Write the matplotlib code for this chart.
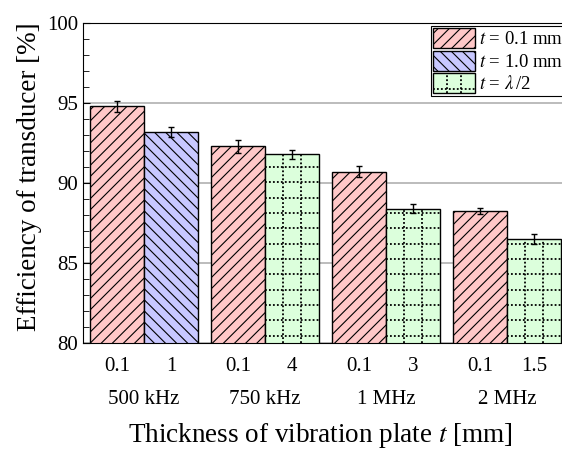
import numpy as np
import matplotlib
matplotlib.use("Agg")
import matplotlib.pyplot as plt
from matplotlib.patches import Rectangle
from matplotlib.lines import Line2D
from matplotlib.legend_handler import HandlerBase

# ── data ──
groups = ["500 kHz", "750 kHz", "1 MHz", "2 MHz"]
thin_labels = ["0.1", "0.1", "0.1", "0.1"]
thin_eff = [94.8, 92.3, 90.7, 88.25]
thin_err = [0.35, 0.4, 0.35, 0.17]
thick_labels = ["1", "4", "3", "1.5"]
thick_eff = [93.2, 91.8, 88.4, 86.5]
thick_err = [0.3, 0.27, 0.3, 0.3]
thick_kind = ["t1", "half", "half", "half"]

plt.rcParams["font.family"] = ["Liberation Serif", "DejaVu Serif"]
plt.rcParams["mathtext.fontset"] = "stix"
plt.rcParams["hatch.linewidth"] = 0.8

PINK = "#ffc8c8"
BLUE = "#c8c8ff"
GREEN = "#dcffdc"
W = 0.446
YMIN, YMAX = 80, 100
DOT = dict(color="black", lw=1.3, linestyle=(0, (1, 1.2)))


def dotted_grid(ax, bar, ystep=0.96):
    # dotted "hatch" for the lambda/2 bars, kept inside the visible part of the bar
    x0, w = bar.get_x(), bar.get_width()
    lo, hi = max(bar.get_y(), YMIN), bar.get_y() + bar.get_height()
    for k in (1, 2):
        ax.plot([x0 + w * k / 3] * 2, [lo, hi], zorder=2.5, **DOT)
    for y in np.arange(lo + 0.45, hi, ystep):
        ax.plot([x0, x0 + w], [y, y], zorder=2.5, **DOT)


class DotGridHandler(HandlerBase):
    def create_artists(self, legend, orig_handle, xdescent, ydescent,
                       width, height, fontsize, trans):
        x0, y0 = -xdescent, -ydescent
        rect = Rectangle((x0, y0), width, height, facecolor=GREEN,
                         edgecolor="black", lw=1.0, transform=trans)
        arts = [rect]
        for k in (1, 2):
            arts.append(Line2D([x0 + width * k / 3] * 2, [y0, y0 + height],
                               transform=trans, **DOT))
        arts.append(Line2D([x0, x0 + width], [y0 + height * 0.2] * 2,
                           transform=trans, **DOT))
        return arts


fig = plt.figure(figsize=(5.62, 4.5), dpi=100)
ax = fig.add_axes([0.1477, 0.2378, 1.0116 - 0.1477, 0.9489 - 0.2378])

x = np.arange(len(groups))
err_kw = dict(ecolor="black", elinewidth=1.0, capsize=2.5, capthick=1.0)

thin_bars = ax.bar(x - W / 2, thin_eff, W, yerr=thin_err,
                   facecolor=PINK, edgecolor="black", lw=1.0, hatch="///",
                   zorder=2, error_kw=err_kw)
thick_bars = ax.bar(x + W / 2, thick_eff, W, yerr=thick_err,
                    facecolor=[BLUE if k == "t1" else GREEN for k in thick_kind],
                    edgecolor="black", lw=1.0, zorder=2, error_kw=err_kw)
for bar, kind in zip(thick_bars, thick_kind):
    if kind == "t1":
        bar.set_hatch("\\\\\\")
    else:
        dotted_grid(ax, bar)

ax.set_ylim(YMIN, YMAX)
ax.set_xlim(-0.504, 3.504)
ax.set_yticks([80, 85, 90, 95, 100])
ax.set_yticks(np.arange(80, 101, 1), minor=True)
ax.yaxis.grid(True, color="#b0b0b0", lw=1.2, zorder=0)
ax.set_axisbelow(True)
ax.tick_params(axis="y", which="both", direction="in", labelsize=15)
ax.tick_params(axis="y", which="major", length=5)
ax.tick_params(axis="y", which="minor", length=4)

ax.set_xticks(np.concatenate([x - W / 2, x + W / 2]))
ax.set_xticklabels(thin_labels + thick_labels)
ax.tick_params(axis="x", length=0, labelsize=15, pad=10)

for xi, g in zip(x, groups):
    ax.text(xi, -0.178, g, transform=ax.get_xaxis_transform(),
            ha="center", va="center", fontsize=15)

ax.set_ylabel("Efficiency of transducer [%]", fontsize=19.5)
ax.yaxis.set_label_coords(-0.085, 0.519)
ax.set_xlabel("Thickness of vibration plate $t$ [mm]", fontsize=19.5)
ax.xaxis.set_label_coords(0.49, -0.245)

handles = [Rectangle((0, 0), 1, 1, facecolor=PINK, edgecolor="black", hatch="///"),
           Rectangle((0, 0), 1, 1, facecolor=BLUE, edgecolor="black", hatch="\\\\\\"),
           Rectangle((0, 0), 1, 1, facecolor=GREEN, edgecolor="black")]
labels = ["$t$ = 0.1 mm", "$t$ = 1.0 mm", r"$t$ = $\lambda\,$/2"]
leg = ax.legend(handles, labels, loc="upper left", bbox_to_anchor=(0.7168, 0.9906),
                fontsize=13.5, handlelength=2.25, handleheight=1.25,
                labelspacing=0.12, borderpad=0.12, handletextpad=0.2,
                borderaxespad=0, fancybox=False, framealpha=1,
                edgecolor="black", handler_map={handles[2]: DotGridHandler()})
leg.get_frame().set_linewidth(0.8)

fig.savefig("out.png", dpi=100)
